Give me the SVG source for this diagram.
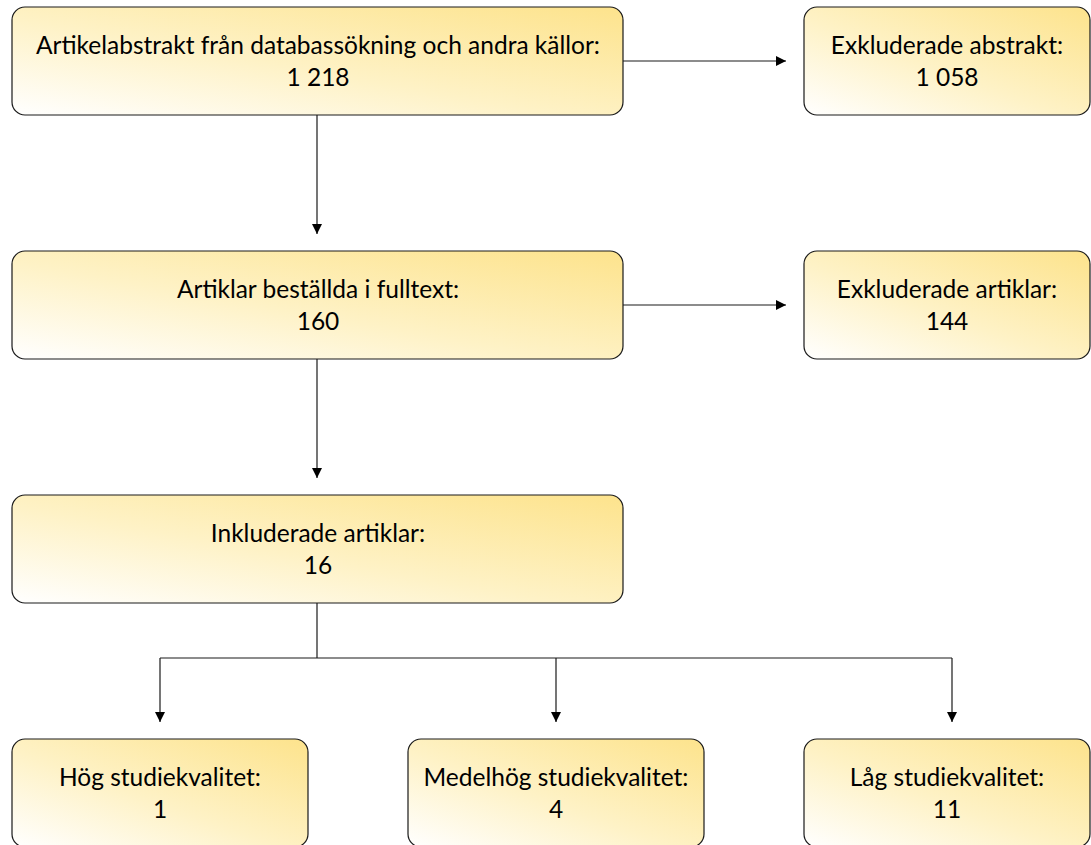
<svg xmlns="http://www.w3.org/2000/svg" width="1091" height="845" viewBox="0 0 1091 845">
<defs>
<linearGradient id="g" x1="0" y1="1" x2="1" y2="0">
<stop offset="0" stop-color="#FFFFFF"/>
<stop offset="0.45" stop-color="#FEF2C6"/>
<stop offset="1" stop-color="#FDE38C"/>
</linearGradient>
<marker id="arr" viewBox="0 0 10 10" refX="10" refY="5" markerWidth="11" markerHeight="10" markerUnits="userSpaceOnUse" orient="auto">
<path d="M0,0 L10,5 L0,10 Z" fill="#000"/>
</marker>
<style>
.box{fill:url(#g);stroke:#1a1a1a;stroke-width:1.2}
.t{font-family:Lato,"Open Sans",sans-serif;font-size:24.5px;fill:#000;text-anchor:middle}
.c{fill:none;stroke:#1a1a1a;stroke-width:1.2}
</style>
</defs>
<g id="connectors">
<path class="c" d="M317,115 V234" marker-end="url(#arr)"/>
<path class="c" d="M317,359 V478" marker-end="url(#arr)"/>
<path class="c" d="M623,61 H786" marker-end="url(#arr)"/>
<path class="c" d="M623,305 H786" marker-end="url(#arr)"/>
<path class="c" d="M317,603 V658"/>
<path class="c" d="M160,658 H952"/>
<path class="c" d="M160,658 V722" marker-end="url(#arr)"/>
<path class="c" d="M556,658 V722" marker-end="url(#arr)"/>
<path class="c" d="M952,658 V722" marker-end="url(#arr)"/>
</g>
<g id="n1"><rect class="box" x="12" y="7" width="611" height="108" rx="13"/>
<text class="t" x="318" y="54">Artikelabstrakt från databassökning och andra källor:</text>
<text class="t" x="318" y="86">1 218</text></g>
<g id="n2"><rect class="box" x="804" y="7" width="286" height="108" rx="13"/>
<text class="t" x="947" y="54">Exkluderade abstrakt:</text>
<text class="t" x="947" y="86">1 058</text></g>
<g id="n3"><rect class="box" x="12" y="251" width="611" height="108" rx="13"/>
<text class="t" x="318" y="298">Artiklar beställda i fulltext:</text>
<text class="t" x="318" y="330">160</text></g>
<g id="n4"><rect class="box" x="804" y="251" width="286" height="108" rx="13"/>
<text class="t" x="947" y="298">Exkluderade artiklar:</text>
<text class="t" x="947" y="330">144</text></g>
<g id="n5"><rect class="box" x="12" y="495" width="611" height="108" rx="13"/>
<text class="t" x="318" y="542">Inkluderade artiklar:</text>
<text class="t" x="318" y="574">16</text></g>
<g id="n6"><rect class="box" x="12" y="739" width="296" height="108" rx="13"/>
<text class="t" x="160" y="786">Hög studiekvalitet:</text>
<text class="t" x="160" y="818">1</text></g>
<g id="n7"><rect class="box" x="408" y="739" width="296" height="108" rx="13"/>
<text class="t" x="556" y="786">Medelhög studiekvalitet:</text>
<text class="t" x="556" y="818">4</text></g>
<g id="n8"><rect class="box" x="804" y="739" width="286" height="108" rx="13"/>
<text class="t" x="947" y="786">Låg studiekvalitet:</text>
<text class="t" x="947" y="818">11</text></g>
</svg>
